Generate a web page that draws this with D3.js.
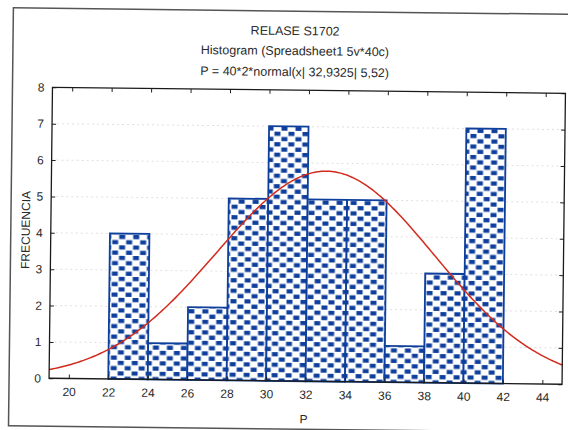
<!DOCTYPE html>
<html>
<head>
<meta charset="utf-8">
<script src="https://cdn.jsdelivr.net/npm/d3@7/dist/d3.min.js"></script>
<style>
  html, body { margin: 0; padding: 0; background: #fff; }
  svg { display: block; }
  text { font-family: "Liberation Sans", Arial, sans-serif; fill: #2a2a2a; }
</style>
</head>
<body>
<script>
// Histogram bins (lower edge, upper edge) and counts
const binStart = [22, 24, 26, 28, 30, 32, 34, 36, 38, 40];
const binEnd   = [24, 26, 28, 30, 32, 34, 36, 38, 40, 42];
const counts   = [4, 1, 2, 5, 7, 5, 5, 1, 3, 7];

// Axis ticks
const xTicks = [20, 22, 24, 26, 28, 30, 32, 34, 36, 38, 40, 42, 44];
const yTicks = [0, 1, 2, 3, 4, 5, 6, 7, 8];

// Fitted normal: P = 40*2*normal(x | 32.9325, 5.52)
const fitN = [40];
const fitWidth = [2];
const fitMean = [32.9325];
const fitSd = [5.52];

const titles = [
  "RELASE S1702",
  "Histogram (Spreadsheet1 5v*40c)",
  "P = 40*2*normal(x| 32,9325| 5,52)"
];

const W = 568, H = 430;
const plot = { left: 51, right: 564, top: 90, bottom: 381 };
const barBlue = "#0f3f9c";

const svg = d3.select("body").append("svg")
  .attr("width", W).attr("height", H);

// Check-and-cross fill pattern for the bars
const defs = svg.append("defs");
const pat = defs.append("pattern")
  .attr("id", "check")
  .attr("patternUnits", "userSpaceOnUse")
  .attr("x", 0).attr("y", 0)
  .attr("width", 14).attr("height", 10.5);
pat.append("rect").attr("width", 14).attr("height", 10.5).attr("fill", "#fff");
pat.append("rect").attr("x", 0.5).attr("y", 0.5).attr("width", 6).attr("height", 4.2).attr("fill", barBlue);
pat.append("rect").attr("x", 7.5).attr("y", 5.75).attr("width", 6).attr("height", 4.2).attr("fill", barBlue);

// Whole page sits slightly tilted
const g = svg.append("g").attr("transform", "rotate(0.67, 284, 215)");

// Page border
g.append("rect")
  .attr("x", 11).attr("y", 11).attr("width", 580).attr("height", 418)
  .attr("fill", "none").attr("stroke", "#555").attr("stroke-width", 1.5);

const x = d3.scaleLinear().domain([19, 45]).range([plot.left, plot.right]);
const y = d3.scaleLinear().domain([0, 8]).range([plot.bottom, plot.top]);

// Titles
const titleY = [35, 55, 76];
g.selectAll("text.title").data(titles).join("text")
  .attr("class", "title")
  .attr("x", 293).attr("y", (d, i) => titleY[i])
  .attr("text-anchor", "middle")
  .attr("font-size", 12.5)
  .text(d => d);

// Faint horizontal grid
g.append("g").selectAll("line").data(yTicks.slice(1, -1)).join("line")
  .attr("x1", plot.left).attr("x2", plot.right)
  .attr("y1", d => y(d)).attr("y2", d => y(d))
  .attr("stroke", "#e0e0e0").attr("stroke-dasharray", "2,3").attr("stroke-width", 1);

// Bars
g.append("g").selectAll("rect").data(counts).join("rect")
  .attr("x", (d, i) => x(binStart[i]))
  .attr("width", (d, i) => x(binEnd[i]) - x(binStart[i]))
  .attr("y", d => y(d))
  .attr("height", d => y(0) - y(d))
  .attr("fill", "url(#check)")
  .attr("stroke", barBlue).attr("stroke-width", 1.8);

// Fitted normal curve
const n = fitN[0], bw = fitWidth[0], mu = fitMean[0], sd = fitSd[0];
const curvePts = d3.range(19, 45.001, 0.1).map(v => [v,
  n * bw * Math.exp(-0.5 * ((v - mu) / sd) ** 2) / (sd * Math.sqrt(2 * Math.PI))]);
g.append("path")
  .datum(curvePts)
  .attr("fill", "none")
  .attr("stroke", "#d22a1c").attr("stroke-width", 1.5)
  .attr("d", d3.line().x(d => x(d[0])).y(d => y(d[1])));

// Axes: ticks point inward on all four sides
const axB = g.append("g").attr("transform", `translate(0,${plot.bottom})`)
  .call(d3.axisBottom(x).tickValues(xTicks).tickSize(-4).tickPadding(9));
const axT = g.append("g").attr("transform", `translate(0,${plot.top})`)
  .call(d3.axisTop(x).tickValues(xTicks).tickSize(-4).tickFormat(""));
const axL = g.append("g").attr("transform", `translate(${plot.left},0)`)
  .call(d3.axisLeft(y).tickValues(yTicks).tickSize(-4).tickPadding(8));
const axR = g.append("g").attr("transform", `translate(${plot.right},0)`)
  .call(d3.axisRight(y).tickValues(yTicks).tickSize(-4).tickFormat(""));

[axB, axT, axL, axR].forEach(a => {
  a.select(".domain").remove();
  a.selectAll(".tick line").attr("stroke", "#222");
  a.selectAll(".tick text").attr("font-size", 12).attr("fill", "#2a2a2a")
    .attr("font-family", "\"Liberation Sans\", Arial, sans-serif");
});

// Plot frame
g.append("rect")
  .attr("x", plot.left).attr("y", plot.top)
  .attr("width", plot.right - plot.left).attr("height", plot.bottom - plot.top)
  .attr("fill", "none").attr("stroke", "#1a1a1a").attr("stroke-width", 1.3);

// Axis titles
g.append("text")
  .attr("x", 306).attr("y", 423)
  .attr("text-anchor", "middle").attr("font-size", 12)
  .text("P");
g.append("text")
  .attr("transform", "translate(30,233) rotate(-90)")
  .attr("text-anchor", "middle").attr("font-size", 12)
  .text("FRECUENCIA");
</script>
</body>
</html>
